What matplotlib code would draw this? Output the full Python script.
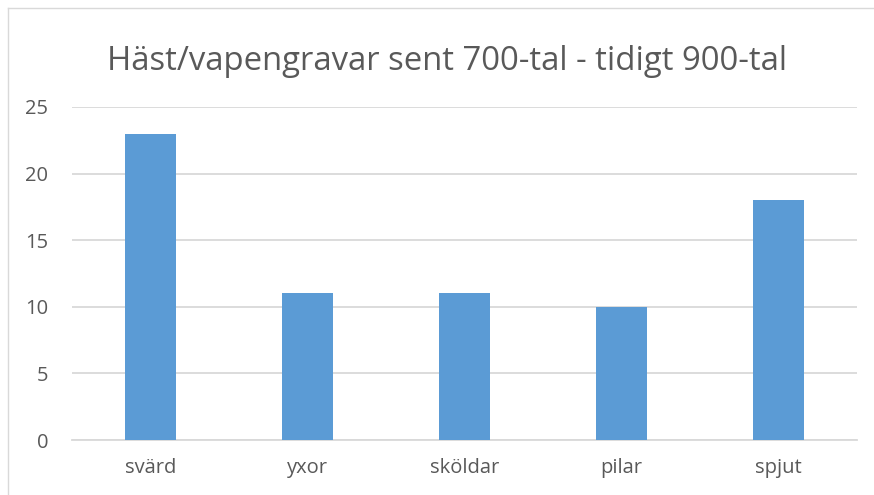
import matplotlib.pyplot as plt
import numpy as np

plt.rcParams['font.family'] = ['Open Sans', 'DejaVu Sans']

categories = ['svärd', 'yxor', 'sköldar', 'pilar', 'spjut']
counts = [23, 11, 11, 10, 18]
yticks = [0, 5, 10, 15, 20, 25]
TITLE = 'Häst/vapengravar sent 700-tal - tidigt 900-tal'

TEXT = '#595959'
GRID = '#d9d9d9'
BAR = '#5b9bd5'

fig = plt.figure(figsize=(8.74, 4.95), dpi=100)
ax = fig.add_axes([72 / 874, 1 - 440 / 495, (857 - 72) / 874, (440 - 107) / 495])

x = np.arange(len(categories))
ax.bar(x, counts, width=0.32, color=BAR, zorder=3)

ax.set_xlim(-0.5, len(categories) - 0.5)
ax.set_ylim(0, 25)
ax.set_yticks(yticks)
ax.set_xticks(x, labels=categories)
ax.grid(True, axis='y', color=GRID, linewidth=1.3, zorder=0)
ax.tick_params(axis='both', length=0, colors=TEXT, labelsize=14.5)
ax.tick_params(axis='y', pad=17)
ax.tick_params(axis='x', pad=13)
for s in ['top', 'right', 'left']:
    ax.spines[s].set_visible(False)
ax.spines['bottom'].set_color(GRID)
ax.spines['bottom'].set_linewidth(1.3)

fig.text(447 / 874, 1 - 61 / 495, TITLE, ha='center', va='center',
         fontsize=23.7, color=TEXT)

# outer chart border (left and top only visible)
fig.add_artist(plt.Line2D([7.5 / 874, 7.5 / 874], [0, 1 - 8 / 495],
                          transform=fig.transFigure, color=GRID, linewidth=1))
fig.add_artist(plt.Line2D([7.5 / 874, 1], [1 - 8 / 495, 1 - 8 / 495],
                          transform=fig.transFigure, color=GRID, linewidth=1))

fig.savefig('out.png', dpi=100)
